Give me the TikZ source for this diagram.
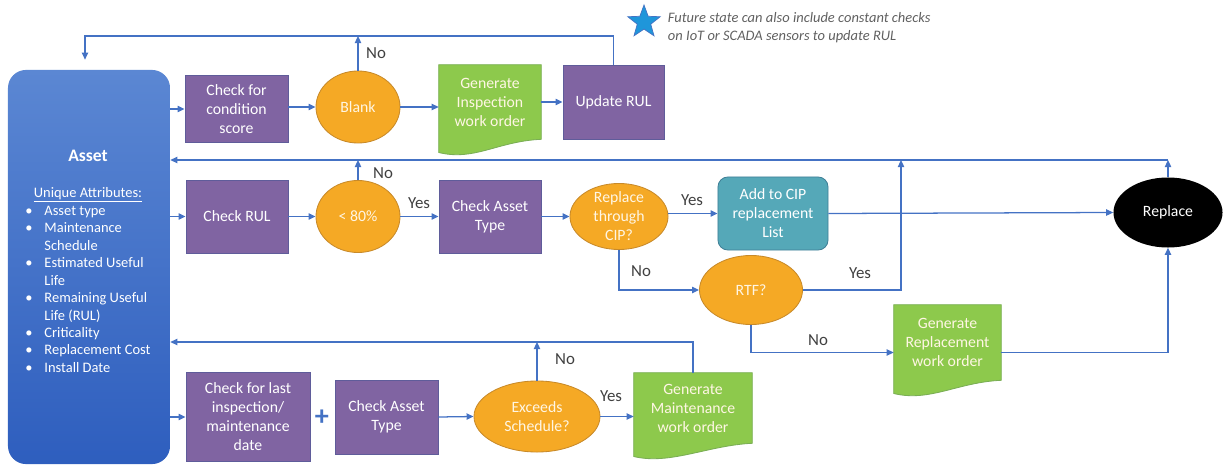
\documentclass[tikz,border=0pt]{standalone}
\usepackage{fontspec}
\setmainfont{Carlito}
\usepackage{tikz}
\usetikzlibrary{arrows.meta}
\usetikzlibrary{shapes.geometric}
\usetikzlibrary{backgrounds}

\definecolor{lineblue}{HTML}{4472C4}
\definecolor{boxpurple}{HTML}{8064A2}
\definecolor{purpleedge}{HTML}{5F5C9A}
\definecolor{decorange}{HTML}{F5A925}
\definecolor{decedge}{HTML}{C88A2A}
\definecolor{docgreen}{HTML}{8DC94C}
\definecolor{docedge}{HTML}{7AAE55}
\definecolor{cipteal}{HTML}{55A8B8}
\definecolor{cipedge}{HTML}{3F7F96}
\definecolor{assettop}{HTML}{5B87D3}
\definecolor{assetbot}{HTML}{2E5EBE}
\definecolor{labelgray}{HTML}{404040}
\definecolor{notegray}{HTML}{606060}
\definecolor{starblue}{HTML}{1F96DA}
\definecolor{cream}{HTML}{FFF6E4}

% wavy bottom of a work order
\newcommand{\docshape}[1]{%
    \begin{pgfonlayer}{background}
        \filldraw[fill=docgreen,draw=docedge,line width=0.6pt] (#1.north west) -- (#1.north east) -- (#1.south east)
            .. controls ([xshift=-1.1cm,yshift=-0.05cm]#1.south east) and ([xshift=0.9cm,yshift=-0.55cm]#1.south west)
            .. ([yshift=-0.33cm]#1.south west) -- cycle;
    \end{pgfonlayer}}

\begin{document}
\begin{tikzpicture}[x=0.025cm,y=-0.025cm,
        conn/.style={draw=lineblue,line width=0.9pt,-{Triangle[length=5pt,width=4.5pt]}},
        txt/.style={font=\fontsize{11.2}{13.5}\selectfont,align=center},
        pbox/.style={txt,rectangle,text=white,fill=boxpurple,draw=purpleedge,line width=0.6pt,inner sep=1pt},
        dec/.style={txt,ellipse,text=cream,fill=decorange,draw=decedge,line width=0.6pt,inner sep=0pt},
        docnode/.style={txt,rectangle,text=cream,inner sep=1pt},
        cipbox/.style={txt,rectangle,rounded corners=7pt,text=white,fill=cipteal,draw=cipedge,line width=0.6pt,inner sep=1pt},
        lbl/.style={font=\fontsize{12}{14}\selectfont,text=labelgray,inner sep=0pt},
    ]
    \useasboundingbox (0,0) rectangle (1224,466);

    % Asset
    \node[rectangle,rounded corners=0.45cm,top color=assettop,bottom color=assetbot,
        minimum width=4.05cm,minimum height=9.85cm] (asset) at (89,267) {};
    \node[text=white,font=\fontsize{12.5}{15}\selectfont\bfseries] (assettitle) at (88,156) {Asset};
    \node[text=white,font=\fontsize{10.3}{12.4}\selectfont] (attrhead) at (88,195) {\underline{Unique Attributes:}};
    \node[text=white,font=\fontsize{10.3}{12.4}\selectfont,anchor=north west,inner sep=0pt] (attrs) at (25,203) {%
        \begin{tabular}{@{}l@{\hspace{8.5pt}}l@{}}
            \textbullet & Asset type\\
            \textbullet & Maintenance\\
                        & Schedule\\
            \textbullet & Estimated Useful\\
                        & Life\\
            \textbullet & Remaining Useful\\
                        & Life (RUL)\\
            \textbullet & Criticality\\
            \textbullet & Replacement Cost\\
            \textbullet & Install Date
        \end{tabular}};

    % row 1
    \node[pbox,minimum width=2.575cm,minimum height=1.675cm] (ccs) at (236.5,109) {Check for\\condition\\score};
    \node[dec,minimum width=2.1cm,minimum height=1.8cm] (blank) at (358,107) {Blank};
    \node[docnode,minimum width=2.55cm,minimum height=1.85cm] (geninsp) at (490,102) {Generate\\Inspection\\work order};
    \docshape{geninsp}
    \node[pbox,minimum width=2.525cm,minimum height=1.85cm] (updrul) at (613.5,102) {Update RUL};

    % row 2
    \node[pbox,minimum width=2.55cm,minimum height=1.825cm] (crul) at (237,216.5) {Check RUL};
    \node[dec,minimum width=2.1cm,minimum height=1.8cm] (lt80) at (358,216.5) {< 80\%};
    \node[pbox,minimum width=2.55cm,minimum height=1.825cm] (cat1) at (490,216.5) {Check Asset\\Type};
    \node[dec,inner ysep=-3pt,minimum width=2.45cm,minimum height=1.65cm] (cip) at (619,216.5) {Replace\\through\\CIP?};
    \node[cipbox,minimum width=2.75cm,minimum height=1.825cm] (addcip) at (773,213.5) {Add to CIP\\replacement\\List};
    \node[ellipse,fill=black,text=white,txt,minimum width=2.725cm,minimum height=1.75cm] (replace) at (1168,212.5) {Replace};
    \node[dec,minimum width=2.575cm,minimum height=1.725cm] (rtf) at (751,290) {RTF?};
    \node[docnode,minimum width=2.675cm,minimum height=1.875cm] (genrep) at (947.5,342.5) {Generate\\Replacement\\work order};
    \docshape{genrep}

    % row 3
    \node[pbox,minimum width=3.1cm,minimum height=2.225cm] (clast) at (248,417) {Check for last\\inspection/\\maintenance\\date};
    \node[text=lineblue,font=\fontsize{20}{20}\selectfont\bfseries,inner sep=0pt] (plus) at (322,418) {+};
    \node[pbox,minimum width=2.575cm,minimum height=1.85cm] (cat2) at (386.5,417) {Check Asset\\Type};
    \node[dec,minimum width=3.15cm,minimum height=1.775cm] (exceeds) at (537,416.5) {Exceeds\\Schedule?};
    \node[docnode,minimum width=2.95cm,minimum height=1.75cm] (genmnt) at (693,408) {Generate\\Maintenance\\work order};
    \docshape{genmnt}

    % note
    \node[star,star points=5,star point ratio=2.4,fill=starblue,draw=lineblue,line width=0.5pt,
        minimum size=0.85cm,inner sep=0pt] (star) at (644,22) {};
    \node[anchor=west,align=left,text=notegray,font=\fontsize{10.3}{12.8}\selectfont\itshape] (note) at (663,28)
        {Future state can also include constant checks\\on IoT or SCADA sensors to update RUL};

    % return lines
    \coordinate (ret1) at (85,36);
    \coordinate (ret2) at (1168,160);
    \coordinate (ret3) at (693,342);
    \coordinate (yesup) at (901,160);

    % connectors row 1
    \draw[conn] (asset.east |- ccs.west) -- (ccs.west);
    \draw[conn] (ccs.east |- blank.west) -- (blank.west);
    \draw[conn] (blank.east) -- (blank.east -| geninsp.west);
    \draw[conn] (geninsp.east) -- (updrul.west);
    \draw[conn] (updrul.north) |- (ret1) -- ([yshift=0.25cm]ret1 |- asset.north);
    \draw[conn] (blank.north) -- (blank.north |- ret1);
    \node[lbl] (no1) at (376,53) {No};

    % connectors row 2
    \draw[conn] (asset.east |- crul.west) -- (crul.west);
    \draw[conn] (crul.east) -- (lt80.west);
    \draw[conn] (lt80.east) -- (cat1.west);
    \node[lbl] (yes1) at (419,203) {Yes};
    \draw[conn] (lt80.north) -- (lt80.north |- ret2);
    \node[lbl] (no2) at (383,173) {No};
    \draw[conn] (cat1.east) -- (cip.west);
    \draw[conn] (cip.east |- addcip.west) -- (addcip.west);
    \node[lbl] (yes2) at (692,200) {Yes};
    \draw[conn] (addcip.east) -- (replace.west);
    \draw[conn] (replace.north) -- (replace.north |- ret2);
    \draw[conn] (ret2) -- (asset.east |- ret2);
    \draw[conn] (cip.south) |- (rtf.west);
    \node[lbl] (no3) at (641,271) {No};
    \draw[conn] (rtf.east) -| (yesup);
    \node[lbl] (yes3) at (860,273) {Yes};
    \draw[conn] (rtf.south) |- ([yshift=-0.25cm]genrep.west);
    \node[lbl] (no4) at (818,340) {No};
    \draw[conn] ([yshift=-0.25cm]genrep.east) -| (replace.south);

    % connectors row 3
    \draw[conn] (asset.east |- clast.west) -- (clast.west);
    \draw[conn] (cat2.east) -- (exceeds.west);
    \draw[conn] (exceeds.east) -- (exceeds.east -| genmnt.west);
    \node[lbl] (yes4) at (611,396) {Yes};
    \draw[conn] (exceeds.north) -- (exceeds.north |- ret3);
    \node[lbl] (no5) at (565,359) {No};
    \draw[conn] (genmnt.north) -- (ret3) -- (asset.east |- ret3);
\end{tikzpicture}
\end{document}
